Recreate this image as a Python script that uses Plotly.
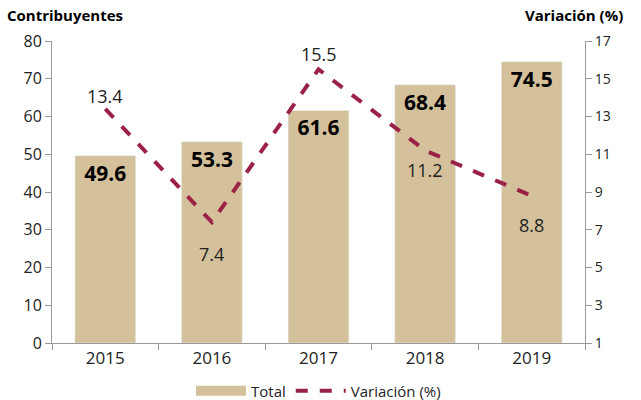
import plotly.graph_objects as go

years = ['2015', '2016', '2017', '2018', '2019']
total = [49.6, 53.3, 61.6, 68.4, 74.5]
variacion = [13.4, 7.4, 15.5, 11.2, 8.8]
# vertical offset (px) of each variation label from its point
var_shift = [13, -32, 15, -20, -29]

font = 'Open Sans, sans-serif'
axis_color = '#9a9a9a'
bar_color = '#D4C19C'

traces = [
    go.Bar(
        name='Total',
        x=years,
        y=total,
        width=0.57,
        marker=dict(color=bar_color),
        text=[f'{v:.1f}' for v in total],
        textposition='inside',
        insidetextanchor='end',
        textangle=0,
        textfont=dict(family=font, size=21, color='black', weight='bold'),
        showlegend=False,
    ),
    # legend-only entry so the swatch is a wide block like the original
    go.Scatter(
        name='Total',
        x=[None],
        y=[None],
        mode='lines',
        line=dict(color=bar_color, width=14),
    ),
    go.Scatter(
        name='Variación (%)',
        x=years,
        y=variacion,
        yaxis='y2',
        mode='lines',
        line=dict(color='#9B2247', width=4, dash='dash'),
    ),
]

annotations = [
    dict(x=i, y=v, xref='x', yref='y2', text=f'{v:.1f}', yshift=s,
         showarrow=False, font=dict(size=18, color='#222222'))
    for i, (v, s) in enumerate(zip(variacion, var_shift))
]
annotations += [
    dict(text='<b>Contribuyentes</b>', xref='paper', yref='paper',
         x=-0.088, y=1.086, xanchor='left', yanchor='middle',
         showarrow=False, font=dict(size=15, color='black')),
    dict(text='<b>Variación (%)</b>', xref='paper', yref='paper',
         x=1.075, y=1.086, xanchor='right', yanchor='middle',
         showarrow=False, font=dict(size=15, color='black')),
]

layout = go.Layout(
    width=641,
    height=400,
    margin=dict(l=52, r=56, t=41, b=57, autoexpand=False),
    plot_bgcolor='white',
    paper_bgcolor='white',
    font=dict(family=font, color='#222222'),
    xaxis=dict(
        type='category',
        range=[-0.5, 4.5],
        showline=True,
        linecolor=axis_color,
        ticks='outside',
        tickcolor=axis_color,
        ticklen=6,
        tickson='boundaries',
        tickfont=dict(size=17),
        showgrid=False,
    ),
    yaxis=dict(
        range=[0, 80],
        dtick=10,
        showline=True,
        linecolor=axis_color,
        ticks='outside',
        tickcolor=axis_color,
        ticklen=6,
        tickfont=dict(size=16),
        showgrid=False,
        zeroline=False,
    ),
    yaxis2=dict(
        range=[1, 17],
        tick0=1,
        dtick=2,
        overlaying='y',
        side='right',
        showline=True,
        linecolor=axis_color,
        ticks='outside',
        tickcolor=axis_color,
        ticklen=6,
        tickfont=dict(size=14),
        showgrid=False,
        zeroline=False,
    ),
    legend=dict(
        orientation='h',
        x=0.5,
        xanchor='center',
        y=-0.159,
        yanchor='middle',
        font=dict(size=15),
        itemwidth=50,
    ),
    annotations=annotations,
)

fig = go.Figure(data=traces, layout=layout)
fig.write_html('out.html', config={'displayModeBar': False},
               post_script="document.body.style.margin='0';")
